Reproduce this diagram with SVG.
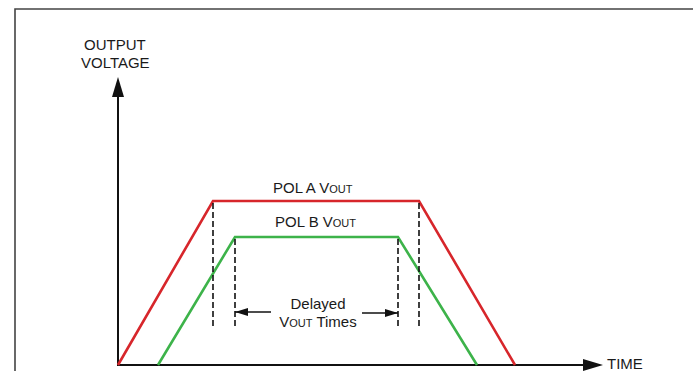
<svg xmlns="http://www.w3.org/2000/svg" width="693" height="371" viewBox="0 0 693 371">
<defs>
<style>
text{font-family:"Liberation Sans",Arial,sans-serif;font-size:15px;fill:#1a1a1a}
.sm{font-size:11px}
.ax{stroke:#111;stroke-width:2;fill:none}
.dash{stroke:#111;stroke-width:1.6;stroke-dasharray:6 3;fill:none}
.red{stroke:#d7262b;stroke-width:2.6;fill:none;stroke-linejoin:miter}
.grn{stroke:#3db34a;stroke-width:2.6;fill:none;stroke-linejoin:miter}
.thin{stroke:#111;stroke-width:1.3;fill:none}
</style>
<marker id="ah" markerWidth="13" markerHeight="8" refX="13" refY="4" orient="auto" markerUnits="userSpaceOnUse">
<path d="M0,0 L13,4 L0,8 Z" fill="#111"/>
</marker>
</defs>
<rect width="693" height="371" fill="#fff"/>
<path d="M15,371 V9 H693" fill="none" stroke="#444" stroke-width="1.6"/>
<g id="axes">
<path class="ax" d="M118,365 V96"/>
<path d="M112,97 L118,77 L124,97 Z" fill="#111"/>
<path class="ax" d="M117,365 H584"/>
<path d="M583,359 L603,365 L583,371 Z" fill="#111"/>
<text x="84" y="50">OUTPUT</text>
<text x="81" y="68">VOLTAGE</text>
<text x="607" y="368.5">TIME</text>
</g>
<g id="polA">
<path class="red" d="M118,365 L213,201 L419,201 L515,365"/>
<text x="273" y="193">POL A V<tspan class="sm">OUT</tspan></text>
</g>
<g id="polB">
<path class="grn" d="M158,365 L235,237 L398,237 L477,365"/>
<text x="275" y="227">POL B V<tspan class="sm">OUT</tspan></text>
</g>
<g id="connectors">
<path class="dash" d="M213,203 V327"/>
<path class="dash" d="M419,203 V327"/>
<path class="dash" d="M235,239 V327"/>
<path class="dash" d="M398,239 V327"/>
<path class="thin" d="M271,312 H235" marker-end="url(#ah)"/>
<path class="thin" d="M362,313 H398" marker-end="url(#ah)"/>
</g>
<g id="delay-label">
<text x="318" y="309" text-anchor="middle">Delayed</text>
<text x="318" y="327" text-anchor="middle">V<tspan class="sm">OUT</tspan> Times</text>
</g>
</svg>
